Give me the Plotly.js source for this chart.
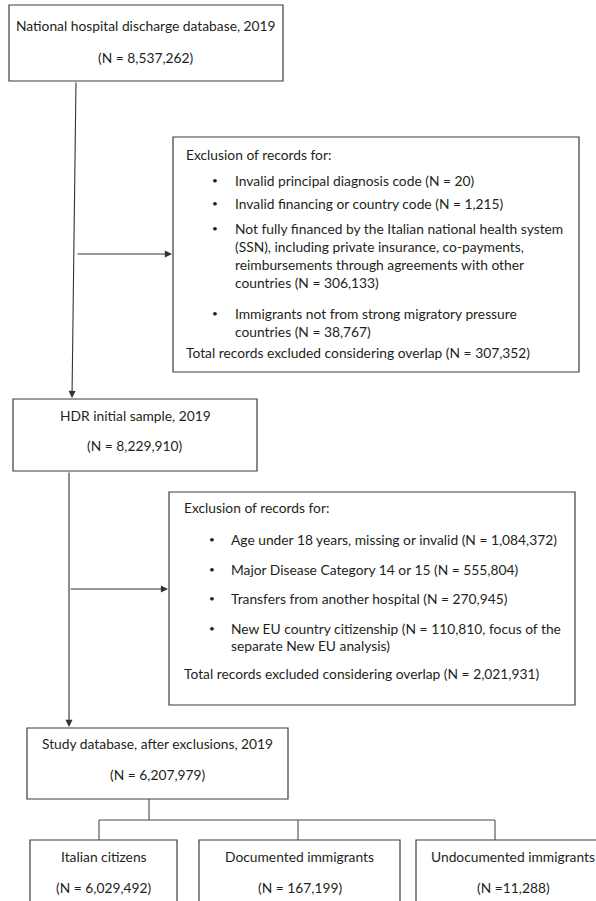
<!DOCTYPE html>
<html>
<head>
<meta charset="utf-8">
<script src="https://cdn.plot.ly/plotly-3.0.1.min.js"></script>
<style>html,body{margin:0;padding:0;background:#fff;}#chart{width:596px;height:901px;}</style>
</head>
<body>
<div id="chart"></div>
<script>
// ---- content ----
const stageTitles = ["National hospital discharge database, 2019", "HDR initial sample, 2019", "Study database, after exclusions, 2019"];
const stageCounts = ["(N = 8,537,262)", "(N = 8,229,910)", "(N = 6,207,979)"];

const excl1Header = "Exclusion of records for:";
const excl1Bullets = [
  ["Invalid principal diagnosis code (N = 20)"],
  ["Invalid financing or country code (N = 1,215)"],
  ["Not fully financed by the Italian national health system", "(SSN), including private insurance, co-payments,", "reimbursements through agreements with other", "countries (N = 306,133)"],
  ["Immigrants not from strong migratory pressure", "countries (N = 38,767)"]
];
const excl1Total = "Total records excluded considering overlap (N = 307,352)";

const excl2Header = "Exclusion of records for:";
const excl2Bullets = [
  ["Age under 18 years, missing or invalid (N = 1,084,372)"],
  ["Major Disease Category 14 or 15 (N = 555,804)"],
  ["Transfers from another hospital (N = 270,945)"],
  ["New EU country citizenship (N = 110,810, focus of the", "separate New EU analysis)"]
];
const excl2Total = "Total records excluded considering overlap (N = 2,021,931)";

const groupTitles = ["Italian citizens", "Documented immigrants", "Undocumented immigrants"];
const groupCounts = ["(N = 6,029,492)", "(N = 167,199)", "(N =11,288)"];

// ---- layout geometry ----
const FONT = {family: "Lato, 'Open Sans', sans-serif", size: 13.8, color: "#231f20"};
const BULLET_FONT = {family: "Lato, sans-serif", size: 10, color: "#231f20"};
const LINE = {color: "#4a4a4a", width: 1.1};
const shapes = [];
const annotations = [];

function box(x0, y0, x1, y1) {
  shapes.push({type: "rect", xref: "x", yref: "y", x0, y0, x1, y1, line: {color: "#3c3c3c", width: 1.2}, fillcolor: "rgba(0,0,0,0)"});
}
function seg(x0, y0, x1, y1) {
  shapes.push({type: "line", xref: "x", yref: "y", x0, y0, x1, y1, line: LINE});
}
function arrow(x0, y0, x1, y1) {
  annotations.push({x: x1, y: y1, ax: x0, ay: y0, xref: "x", yref: "y", axref: "x", ayref: "y",
    text: "", showarrow: true, arrowhead: 2, arrowsize: 1.3, arrowwidth: 1.1, arrowcolor: "#333"});
}
function txt(x, y, t, anchor, font) {
  annotations.push({x, y, xref: "x", yref: "y", text: t, showarrow: false, xanchor: anchor || "center", yanchor: "middle", font: font || FONT});
}

// stage boxes
const stageBoxes = [[9, 5, 283, 81], [13, 399, 257, 471], [27, 728, 288, 799]];
const stageTextY = [[25, 57], [415, 445], [743, 774]];
stageBoxes.forEach((b, i) => {
  box(b[0], b[1], b[2], b[3]);
  const cx = (b[0] + b[2]) / 2;
  txt(cx, stageTextY[i][0], stageTitles[i]);
  txt(cx, stageTextY[i][1], stageCounts[i]);
});

// exclusion box 1
box(173, 137, 579, 372);
txt(184, 154, excl1Header, "left");
const ex1Y = [[180], [203], [228, 246, 264, 282], [313, 331]];
excl1Bullets.forEach((lines, i) => {
  txt(210, ex1Y[i][0], "•", "left", BULLET_FONT);
  lines.forEach((l, j) => txt(233, ex1Y[i][j], l, "left"));
});
txt(184, 352, excl1Total, "left");

// exclusion box 2
box(169, 492, 575, 705);
txt(182, 507, excl2Header, "left");
const ex2Y = [[539], [569], [598], [628, 645]];
excl2Bullets.forEach((lines, i) => {
  txt(207, ex2Y[i][0], "•", "left", BULLET_FONT);
  lines.forEach((l, j) => txt(229, ex2Y[i][j], l, "left"));
});
txt(182, 673, excl2Total, "left");

// connectors
arrow(76, 81, 72, 398);
arrow(76, 254, 172, 254);
arrow(69, 471, 69, 727);
arrow(69, 589, 168, 589);

// split to groups
seg(149, 799, 149, 820);
seg(99, 820, 495, 820);
const groupBoxes = [[30, 840, 177, 910], [199, 840, 400, 910], [416, 840, 610, 910]];
const groupLinkX = [99, 298, 495];
groupBoxes.forEach((b, i) => {
  seg(groupLinkX[i], 820, groupLinkX[i], b[1]);
  box(b[0], b[1], b[2], b[3]);
  const cx = i === 2 ? 513 : (b[0] + b[2]) / 2;
  txt(cx, 856, groupTitles[i]);
  txt(cx, 887, groupCounts[i]);
});

const layout = {
  width: 596, height: 901,
  margin: {l: 0, r: 0, t: 0, b: 0},
  paper_bgcolor: "#fff", plot_bgcolor: "#fff",
  showlegend: false,
  xaxis: {range: [0, 596], visible: false, fixedrange: true},
  yaxis: {range: [901, 0], visible: false, fixedrange: true},
  shapes, annotations
};
Plotly.newPlot("chart", [], layout, {staticPlot: true, displayModeBar: false});
</script>
</body>
</html>
